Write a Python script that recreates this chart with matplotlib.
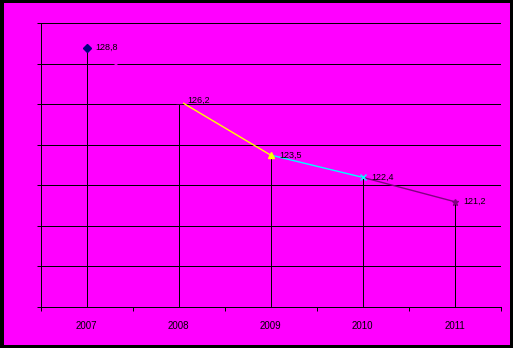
import matplotlib
matplotlib.use("Agg")
import matplotlib.pyplot as plt
import matplotlib.patches as patches

years = ["2007", "2008", "2009", "2010", "2011"]
values = [128.8, 126.2, 123.5, 122.4, 121.2]
labels = ["128,8", "126,2", "123,5", "122,4", "121,2"]
point_colors = ["#000080", "#FF00FF", "#FFFF00", "#00FFFF", "#800080"]
point_markers = ["D", "s", "^", "x", "*"]
y_min, y_max, y_step = 116, 130, 2

px = 0.72  # one pixel line width at 100 dpi

fig = plt.figure(figsize=(5.13, 3.48), dpi=100)
fig.patch.set_facecolor("black")

# magenta chart area inside the black frame
fig.patches.append(patches.Rectangle((4 / 513, 3 / 348), 506 / 513, 342 / 348,
                                     transform=fig.transFigure, facecolor="#FF00FF",
                                     edgecolor="none", zorder=-1))

ax = fig.add_axes([40.5 / 513, 1 - 307 / 348, 460 / 513, (307 - 23.3) / 348])
ax.patch.set_visible(False)

x = list(range(len(years)))
ax.set_xlim(-0.5, len(years) - 0.5)
ax.set_ylim(y_min, y_max)

# horizontal grid
yticks = list(range(y_min, y_max + 1, y_step))
ax.set_yticks(yticks)
ax.set_yticklabels([])
for yv in yticks:
    ax.axhline(yv, color="black", lw=px, zorder=1, antialiased=False)
ax.tick_params(axis="y", length=3, width=px, color="black", direction="out")

# category boundary ticks, labels centred on categories
ax.set_xticks([i - 0.5 for i in range(len(years) + 1)])
ax.set_xticklabels([])
ax.set_xticks(x, minor=True)
ax.set_xticklabels(years, minor=True, fontsize=7, family="Liberation Sans")
ax.tick_params(axis="x", which="major", length=3, width=px, color="black", direction="out")
ax.tick_params(axis="x", which="minor", length=0, pad=10)

for s in ["top", "right"]:
    ax.spines[s].set_visible(False)
for s in ["left", "bottom"]:
    ax.spines[s].set_color("black")
    ax.spines[s].set_linewidth(px)
    ax.spines[s].set_antialiased(False)

# drop lines
ax.vlines(x, y_min, values, color="black", lw=px, zorder=2, antialiased=False)

# segments coloured by the point they lead to
for i in range(1, len(x)):
    ax.plot(x[i - 1:i + 1], values[i - 1:i + 1], color=point_colors[i], lw=1, zorder=3)

for i in range(len(x)):
    ax.plot(x[i], values[i], marker=point_markers[i], color=point_colors[i],
            markersize=4.5, mew=1, zorder=4)
    ax.annotate(labels[i], (x[i], values[i]), xytext=(6, 0), textcoords="offset points",
                fontsize=6.5, family="Liberation Sans", va="center", ha="left", color="black")

plt.savefig("out.png", dpi=100, facecolor=fig.get_facecolor())
plt.close()
